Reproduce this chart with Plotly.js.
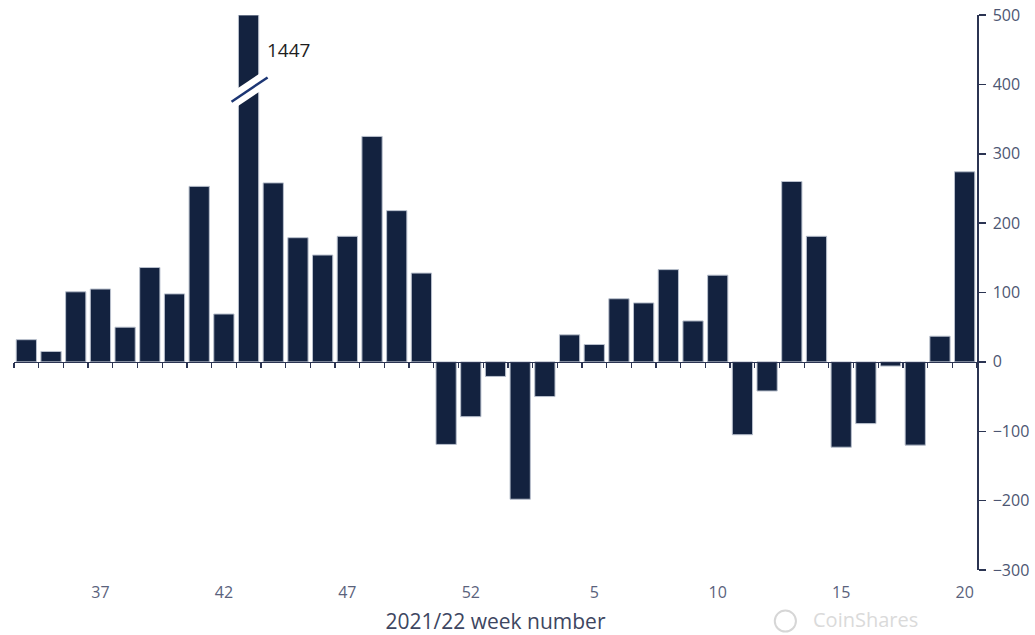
<!DOCTYPE html>
<html>
<head>
<meta charset="utf-8">
<script src="https://cdn.plot.ly/plotly-3.0.1.min.js"></script>
<style>
  html, body { margin: 0; padding: 0; background: #ffffff; }
  #chart { width: 1035px; height: 635px; }
</style>
</head>
<body>
<div id="chart"></div>
<script>
// 2021/22 week numbers
const weeks = ['34','35','36','37','38','39','40','41','42','43','44','45','46','47','48','49','50','51','52',
               '1','2','3','4','5','6','7','8','9','10','11','12','13','14','15','16','17','18','19','20'];
// Weekly flows (US$m)
const flows = [32, 15, 101, 105, 50, 136, 98, 253, 69, 1447, 258, 179, 154, 181, 325, 218, 128, -119, -79,
               -21, -198, -50, 39, 25, 91, 85, 133, 59, 125, -105, -42, 260, 181, -123, -89, -6, -120, 37, 274];
// Labelled weeks on the x axis
const xTickLabels = ['37','42','47','52','5','10','15','20'];
// y axis ticks
const yTickVals = [-300, -200, -100, 0, 100, 200, 300, 400, 500];

const yMin = -300, yMax = 500;
const xIdx = weeks.map((w, i) => i);
const shown = flows.map(v => Math.min(v, yMax));
const breakIdx = flows.findIndex(v => v > yMax);

const navy = '#13223f';
const axisCol = '#2b3452';
const tickCol = '#4d5672';
const font = 'Open Sans, Noto Sans, sans-serif';

const bars = {
  type: 'bar',
  x: xIdx,
  y: shown,
  width: 0.82,
  marker: { color: navy, line: { color: '#b9c0cd', width: 1 } },
  hoverinfo: 'skip',
  showlegend: false
};
// helper trace so the zero-line axis (x2) is drawn
const helper = {
  type: 'scatter', x: [xIdx[0]], y: [0], xaxis: 'x2', yaxis: 'y',
  mode: 'markers', marker: { opacity: 0 }, hoverinfo: 'skip', showlegend: false
};

const boundaries = [];
for (let i = 0; i <= weeks.length; i++) boundaries.push(i - 0.5);

// axis-break decoration on the clipped bar
const bc = 392, bslope = 23.7, bhalf = 13;
const shapes = [];
if (breakIdx >= 0) {
  shapes.push({
    type: 'path', xref: 'x', yref: 'y',
    path: `M ${breakIdx - 0.5},${bc - bslope/2 + bhalf} L ${breakIdx + 0.5},${bc + bslope/2 + bhalf} ` +
          `L ${breakIdx + 0.5},${bc + bslope/2 - bhalf} L ${breakIdx - 0.5},${bc - bslope/2 - bhalf} Z`,
    fillcolor: '#ffffff', line: { width: 0 }
  });
  shapes.push({
    type: 'line', xref: 'x', yref: 'y',
    x0: breakIdx - 0.69, y0: 375, x1: breakIdx + 0.77, y1: 410,
    line: { color: '#1c3674', width: 2.5 }
  });
}

const annotations = [];
if (breakIdx >= 0) {
  annotations.push({
    xref: 'x', yref: 'y', x: breakIdx + 0.68, y: 450,
    xanchor: 'left', yanchor: 'middle', showarrow: false,
    text: String(flows[breakIdx]),
    font: { family: font, size: 19, color: '#1e1e1e' }
  });
}
// faint watermark
annotations.push({
  xref: 'paper', yref: 'paper', x: 0.828, y: -0.117, xanchor: 'left', yanchor: 'bottom',
  showarrow: false, text: 'CoinShares',
  font: { family: font, size: 20, color: '#dadada' }
});
shapes.push({
  type: 'circle', xref: 'paper', yref: 'paper',
  x0: 0.79, x1: 0.812, y0: -0.111, y1: -0.073,
  line: { color: '#d6d6d6', width: 2 }
});

const layout = {
  width: 1035, height: 635,
  margin: { l: 14, r: 58, t: 15, b: 65 },
  paper_bgcolor: '#ffffff', plot_bgcolor: '#ffffff',
  font: { family: font, color: tickCol },
  xaxis: {
    range: [-0.5, weeks.length - 0.5],
    tickmode: 'array',
    tickvals: xTickLabels.map(l => weeks.indexOf(l)),
    ticktext: xTickLabels,
    ticks: '', showline: false, showgrid: false, zeroline: false,
    ticklabelstandoff: 11,
    tickfont: { family: font, size: 16, color: '#5a627c' },
    title: { text: '2021/22 week number', standoff: 16,
             font: { family: font, size: 21, color: '#3d4661' } },
    fixedrange: true
  },
  xaxis2: {
    overlaying: 'x', anchor: 'free', position: (0 - yMin) / (yMax - yMin),
    range: [-0.5, weeks.length - 0.5],
    tickmode: 'array', tickvals: boundaries, showticklabels: false,
    ticks: 'outside', ticklen: 5, tickwidth: 1.3, tickcolor: axisCol,
    showline: true, linecolor: axisCol, linewidth: 1.5,
    showgrid: false, zeroline: false, fixedrange: true
  },
  yaxis: {
    side: 'right', range: [yMin, yMax],
    tickmode: 'array', tickvals: yTickVals,
    ticks: 'outside', ticklen: 7, tickwidth: 1.5, tickcolor: axisCol,
    showline: true, linecolor: axisCol, linewidth: 1.5,
    showgrid: false, zeroline: false,
    ticklabelstandoff: 4,
    tickfont: { family: font, size: 16, color: tickCol },
    fixedrange: true
  },
  shapes: shapes,
  annotations: annotations,
  showlegend: false,
  bargap: 0.18
};

Plotly.newPlot('chart', [bars, helper], layout, { displayModeBar: false, staticPlot: true });
</script>
</body>
</html>
